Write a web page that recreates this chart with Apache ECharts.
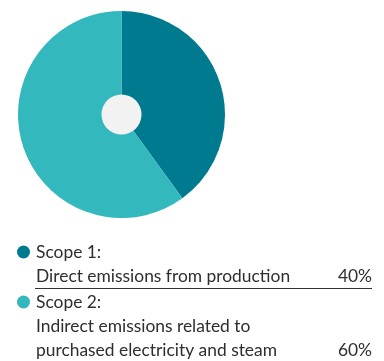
<!DOCTYPE html>
<html>
<head>
<meta charset="utf-8">
<script src="https://cdn.jsdelivr.net/npm/echarts@6/dist/echarts.min.js"></script>
<style>
  html, body { margin: 0; padding: 0; background: #fff; }
  #chart { width: 384px; height: 361px; }
</style>
</head>
<body>
<div id="chart"></div>
<script>
// data
const scopes = ["Scope 1:", "Scope 2:"];
const descriptions = [
  ["Direct emissions from production"],
  ["Indirect emissions related to", "purchased electricity and steam"],
];
const shares = [40, 60];
const colors = ["#007a8f", "#33b8bd"];

const chart = echarts.init(document.getElementById("chart"));

const textColor = "#2e2e2e";
const font = "17.4px Lato, 'Open Sans', sans-serif";
const lineH = 24;

// legend block built from the arrays
const graphics = [];
let y = 252;
scopes.forEach((name, i) => {
  graphics.push({
    type: "circle",
    shape: { cx: 23.5, cy: y, r: 6.5 },
    style: { fill: colors[i] },
  });
  graphics.push({
    type: "text",
    x: 36,
    y: y,
    style: { text: name, fill: textColor, font: font, verticalAlign: "middle" },
  });
  descriptions[i].forEach((line) => {
    y += lineH;
    graphics.push({
      type: "text",
      x: 36,
      y: y,
      style: { text: line, fill: textColor, font: font, verticalAlign: "middle" },
    });
  });
  graphics.push({
    type: "text",
    x: 372,
    y: y,
    style: { text: shares[i] + "%", fill: textColor, font: font, align: "right", verticalAlign: "middle" },
  });
  if (i < scopes.length - 1) {
    graphics.push({
      type: "line",
      shape: { x1: 35, y1: y + 12.5, x2: 372, y2: y + 12.5 },
      style: { stroke: "#333", lineWidth: 1 },
    });
    y += 26;
  }
});

const option = {
  animation: false,
  series: [
    {
      type: "pie",
      center: [121.5, 114.5],
      radius: [0, 103.5],
      startAngle: 90,
      clockwise: true,
      silent: true,
      label: { show: false },
      labelLine: { show: false },
      itemStyle: { borderWidth: 0 },
      data: scopes.map((s, i) => ({ name: s, value: shares[i], itemStyle: { color: colors[i] } })),
    },
    {
      // light hole in the middle
      type: "pie",
      center: [121.5, 114.5],
      radius: [0, 20],
      silent: true,
      label: { show: false },
      labelLine: { show: false },
      data: [{ value: 1, itemStyle: { color: "#f2f2f2" } }],
    },
  ],
  graphic: graphics,
};

chart.setOption(option);
</script>
</body>
</html>
